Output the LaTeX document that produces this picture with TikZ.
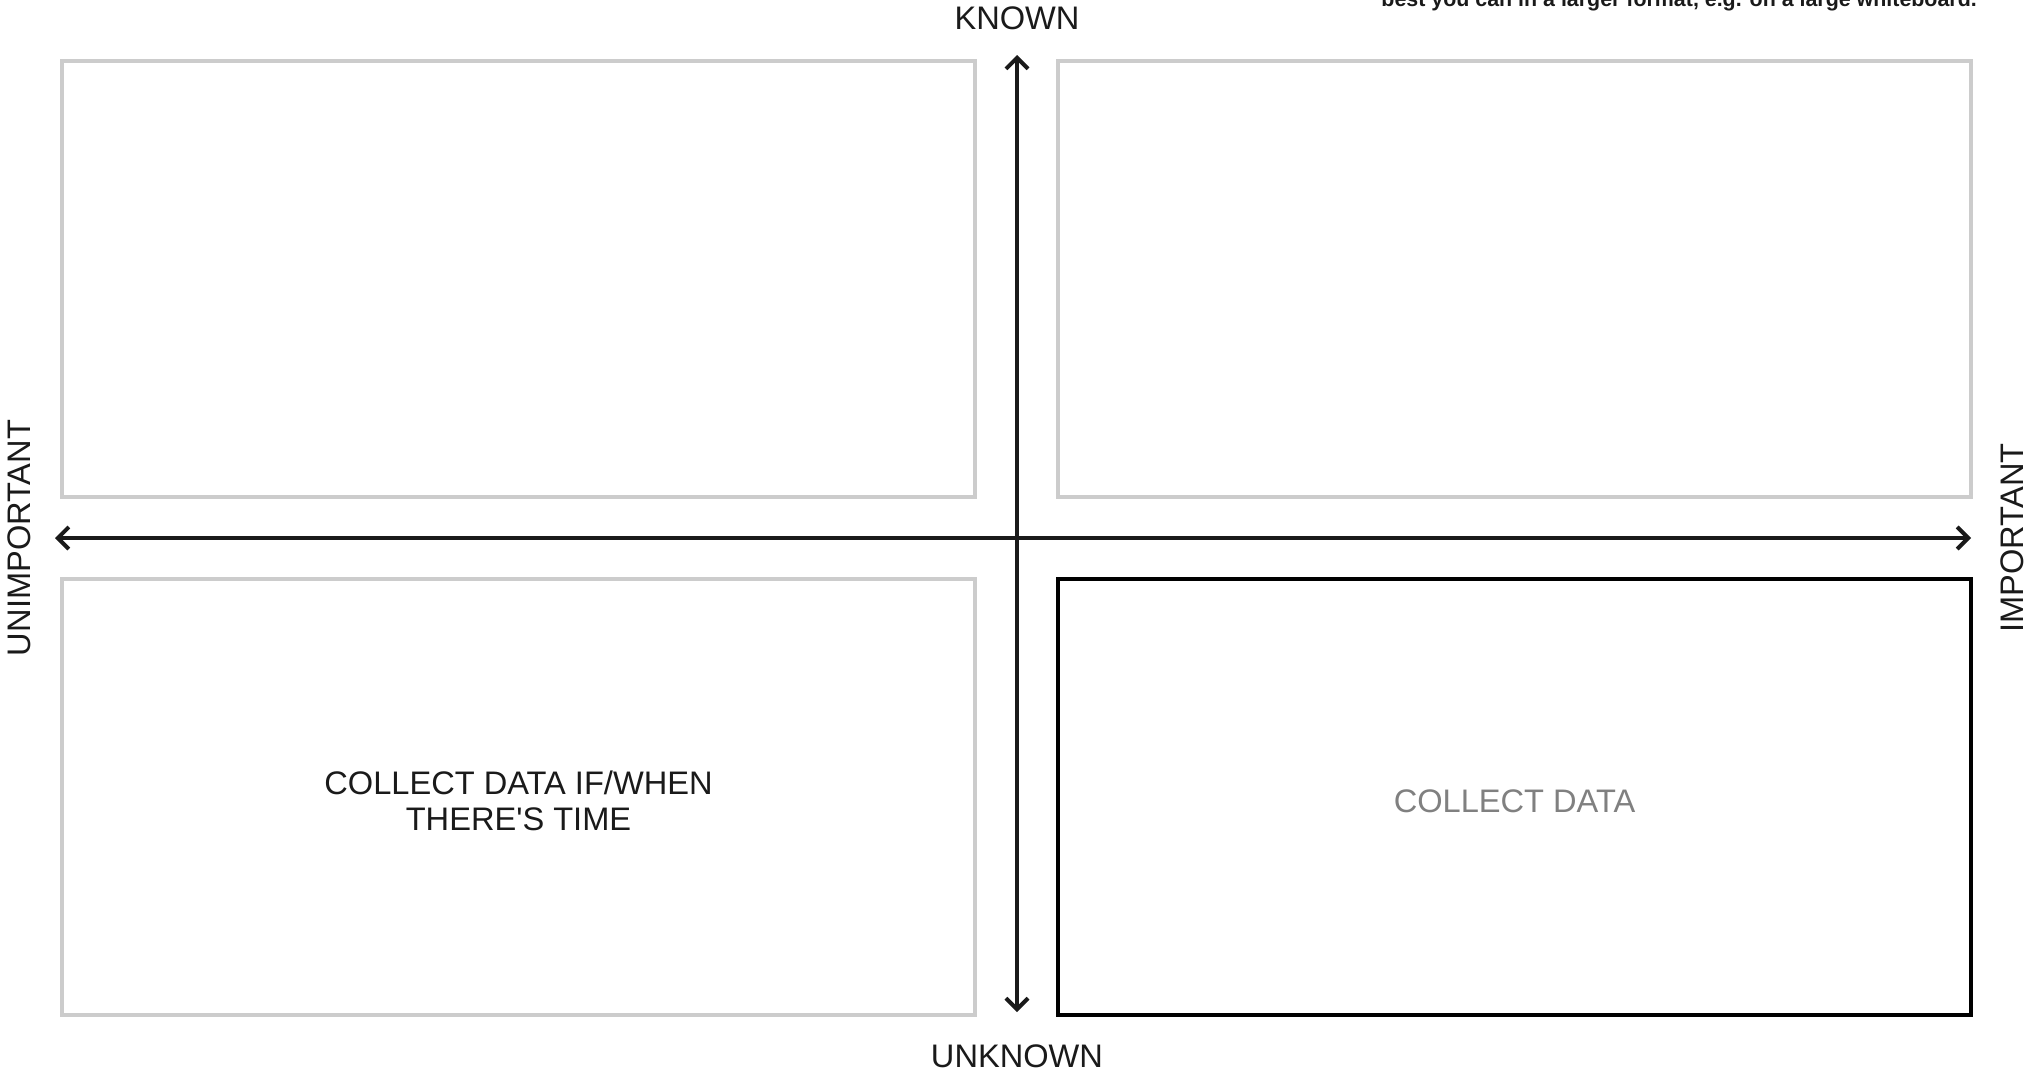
\documentclass[tikz,border=0pt]{standalone}
\usepackage{fontspec}
\setmainfont{Liberation Sans}
\usetikzlibrary{arrows.meta}
\definecolor{boxgray}{HTML}{CCCCCC}
\definecolor{axisdark}{HTML}{1A1A1A}
\definecolor{textgray}{HTML}{808080}
\tikzset{
  quad/.style={draw=boxgray, line width=4pt, rectangle, minimum width=913pt, minimum height=436pt, inner sep=0pt, font=\fontsize{32.6}{36.5}\selectfont, text=axisdark, align=center},
  quadhi/.style={quad, draw=black},
  axis/.style={draw=axisdark, line width=4pt, {Straight Barb[length=11pt,width=22pt]}-{Straight Barb[length=11pt,width=22pt]}},
  axlabel/.style={font=\fontsize{32.6}{36}\selectfont, text=axisdark, inner sep=0pt}
}
\begin{document}
\begin{tikzpicture}[x=1pt,y=-1pt]
\useasboundingbox (0,0) rectangle (2029,1072);
\clip (0,0) rectangle (2029,1072);
\fill[white] (0,0) rectangle (2029,1072);
\node[quad] (tl) at (518.5,279) {};
\node[quad] (tr) at (1514.5,279) {};
\node[quad] (bl) at (518.5,797) {};
\node[quadhi] (br) at (1514.5,797) {};
\node[font=\fontsize{32.6}{36.5}\selectfont, text=axisdark, align=center, inner sep=0pt] (bltext) at (518.5,801) {COLLECT DATA IF/WHEN\\THERE\textquotesingle S TIME};
\node[font=\fontsize{32.6}{36.5}\selectfont, text=textgray, inner sep=0pt] (brtext) at (1514.5,801) {COLLECT DATA};
\coordinate (top) at (1017,55);
\coordinate (bot) at (1017,1012);
\coordinate (lft) at (55,538);
\coordinate (rgt) at (1971,538);
\draw[axis] (bot) -- (top);
\draw[axis] (lft) -- (rgt);
\node[axlabel] (known) at (1017,18) {KNOWN};
\node[axlabel] (unknown) at (1017,1056) {UNKNOWN};
\node[axlabel, rotate=90] (unimp) at (19,538) {UNIMPORTANT};
\node[axlabel, rotate=90] (imp) at (2012,538) {IMPORTANT};
\node[anchor=base east, inner sep=0pt, font=\fontsize{21.4}{24}\selectfont\bfseries, text=axisdark] (note) at (1977,6) {best you can in a larger format, e.g. on a large whiteboard.};
\end{tikzpicture}
\end{document}
